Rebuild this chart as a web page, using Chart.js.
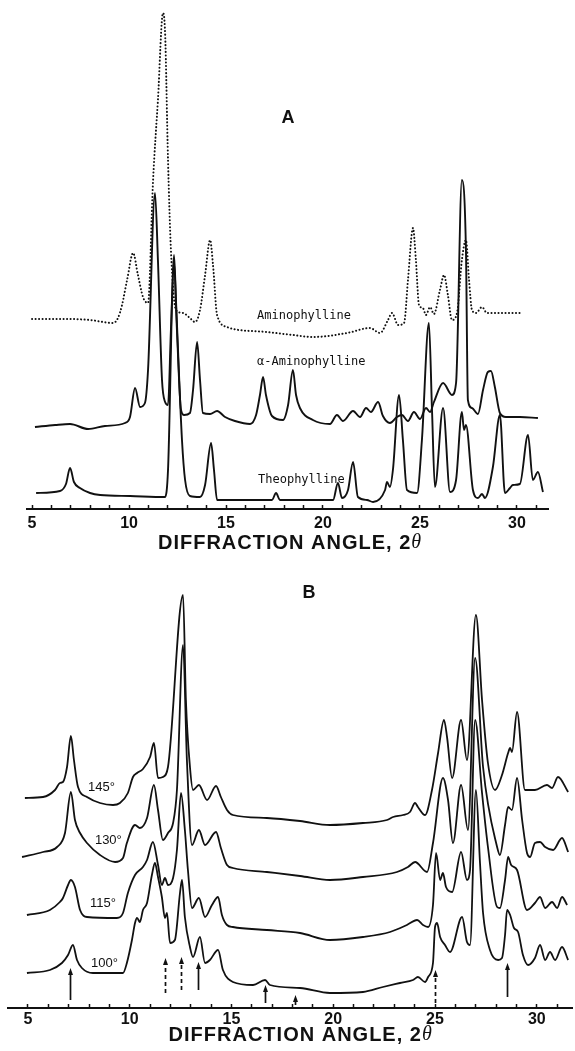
<!DOCTYPE html>
<html lang="en">
<head>
<meta charset="utf-8">
<title>Diffraction patterns</title>
<script src="https://cdn.jsdelivr.net/npm/chart.js@4.4.1/dist/chart.umd.min.js"></script>
<style>
  html, body { margin: 0; padding: 0; background: #fff; }
  .painel { position: absolute; left: 0; width: 575px; }
  #painel-a { top: 0; height: 560px; }
  #painel-b { top: 560px; height: 491px; }
</style>
</head>
<body>
<div class="painel" id="painel-a"><canvas id="grafico-a"></canvas></div>
<div class="painel" id="painel-b"><canvas id="grafico-b"></canvas></div>
<script>
// Painel A - ângulos (2θ) e intensidades de cada difratograma
const angulosTeofilina = [5.21, 6.44, 6.75, 6.96, 7.16, 7.47, 7.99, 8.51, 10.05, 11.86, 12.01, 12.32, 12.42, 12.73, 12.89, 13.14, 13.66, 13.92, 14.23, 14.38, 14.54, 15.21, 17.37, 17.58, 17.78, 20.52, 20.77, 20.98, 21.29, 21.55, 21.80, 22.27, 22.58, 23.20, 23.30, 23.45, 23.61, 23.92, 24.12, 24.33, 24.85, 25.10, 25.46, 25.62, 25.77, 26.19, 26.55, 26.86, 27.16, 27.27, 27.37, 27.73, 27.99, 28.20, 28.35, 28.76, 29.12, 29.38, 29.64, 29.79, 30.15, 30.57, 30.82, 31.08, 31.34];
const intensTeofilina = [16, 18, 25, 41, 27, 21, 16, 14, 13, 12, 39, 254, 209, 69, 29, 13, 12, 24, 66, 39, 9, 9, 9, 16, 9, 9, 26, 11, 19, 47, 12, 9, 7, 19, 27, 22, 40, 114, 69, 19, 16, 69, 186, 99, 22, 101, 17, 29, 97, 79, 84, 19, 11, 15, 11, 42, 94, 16, 21, 24, 25, 74, 29, 37, 17];

const angulosAlfa = [5.15, 6.19, 6.96, 7.89, 8.76, 9.79, 10.05, 10.31, 10.57, 10.82, 10.98, 11.34, 11.49, 11.70, 11.86, 12.01, 12.16, 12.32, 12.47, 12.68, 12.84, 13.14, 13.30, 13.51, 13.66, 13.81, 14.18, 14.54, 14.95, 15.46, 16.24, 16.55, 16.75, 16.91, 17.06, 17.37, 17.94, 18.20, 18.45, 18.61, 18.81, 19.48, 20.36, 20.72, 21.03, 21.55, 21.91, 22.22, 22.47, 22.84, 23.09, 23.45, 23.81, 24.07, 24.38, 24.69, 25.00, 25.31, 25.52, 25.72, 26.19, 26.65, 26.86, 27.16, 27.37, 27.47, 27.68, 27.99, 28.25, 28.50, 28.66, 28.86, 29.12, 29.43, 30.15, 31.08];
const intensAlfa = [2, 4, 5, 0, 3, 6, 12, 41, 22, 26, 59, 236, 169, 49, 27, 24, 99, 167, 99, 19, 14, 16, 39, 87, 49, 16, 15, 18, 12, 8, 5, 14, 34, 52, 34, 13, 9, 24, 59, 34, 21, 9, 5, 14, 8, 18, 12, 21, 17, 27, 13, 6, 12, 14, 8, 17, 10, 21, 17, 27, 46, 34, 46, 249, 179, 29, 21, 15, 39, 57, 58, 42, 16, 12, 12, 11];

const angulosAminofilina = [5.00, 6.80, 7.99, 9.18, 9.43, 9.64, 9.90, 10.21, 10.46, 10.72, 10.98, 11.24, 11.49, 11.75, 11.86, 12.01, 12.16, 12.42, 12.78, 13.14, 13.40, 13.66, 13.92, 14.18, 14.33, 14.54, 15.05, 15.36, 17.11, 18.45, 19.48, 21.24, 22.42, 22.94, 23.35, 23.56, 23.87, 24.18, 24.38, 24.64, 24.79, 24.95, 25.15, 25.31, 25.52, 25.72, 26.03, 26.24, 26.44, 26.65, 26.91, 27.16, 27.37, 27.53, 27.68, 27.89, 28.20, 28.45, 29.12, 30.26];
const intensAminofilina = [20, 20, 19, 16, 21, 34, 59, 86, 64, 42, 36, 159, 239, 326, 306, 179, 89, 29, 26, 21, 17, 29, 64, 99, 74, 24, 12, 10, 7, 4, 2, 6, 11, 6, 19, 26, 14, 16, 59, 111, 79, 34, 31, 24, 32, 25, 49, 64, 44, 19, 26, 79, 99, 59, 29, 26, 32, 26, 26, 26];

// deslocamento vertical de cada curva: teofilina, α-aminofilina, aminofilina
const deslocamentosA = [0, 80, 170];
const nomesA = ['Theophylline', 'α-Aminophylline', 'Aminophylline'];

// Painel B - aminofilina aquecida a 100°, 115°, 130° e 145°
const angulos100 = [4.95, 6.08, 6.67, 6.97, 7.21, 7.41, 7.65, 8.19, 9.67, 9.86, 10.11, 10.26, 10.36, 10.50, 10.65, 10.85, 11.09, 11.24, 11.39, 11.58, 11.73, 11.83, 11.98, 12.22, 12.47, 12.57, 12.71, 12.96, 13.11, 13.45, 13.70, 13.94, 14.34, 14.58, 15.07, 16.06, 16.65, 16.89, 18.37, 19.84, 21.46, 22.44, 23.28, 23.92, 24.16, 24.51, 24.66, 24.90, 25.00, 25.10, 25.25, 25.49, 25.74, 26.33, 26.57, 26.72, 27.01, 27.21, 27.36, 27.70, 28.10, 28.29, 28.44, 28.54, 28.69, 28.88, 29.08, 29.32, 29.57, 29.91, 30.16, 30.41, 30.65, 30.90, 31.24, 31.54];
const intens100 = [35, 38, 45, 53, 63, 48, 40, 35, 35, 45, 68, 85, 90, 86, 98, 105, 133, 145, 131, 111, 90, 95, 65, 68, 115, 128, 91, 61, 51, 71, 45, 48, 58, 38, 26, 23, 28, 23, 20, 15, 16, 21, 25, 28, 31, 26, 31, 45, 81, 85, 71, 63, 56, 91, 66, 63, 218, 145, 95, 58, 48, 50, 73, 98, 93, 80, 76, 53, 43, 50, 63, 48, 56, 48, 61, 48];

const angulos115 = [4.95, 6.08, 6.57, 6.72, 6.97, 7.11, 7.31, 7.56, 7.90, 9.37, 9.67, 9.91, 10.26, 10.65, 10.85, 11.14, 11.39, 11.58, 11.73, 11.88, 12.13, 12.32, 12.52, 12.71, 12.86, 13.06, 13.40, 13.70, 14.04, 14.34, 14.53, 14.78, 15.07, 16.74, 18.37, 19.84, 21.46, 22.79, 23.62, 24.12, 24.41, 24.66, 24.90, 25.05, 25.25, 25.39, 25.54, 25.84, 26.28, 26.57, 26.72, 26.97, 27.31, 27.60, 28.05, 28.19, 28.44, 28.59, 28.74, 29.03, 29.52, 29.91, 30.16, 30.41, 30.75, 31.00, 31.24, 31.49];
const intens115 = [35, 40, 48, 52, 65, 70, 63, 40, 33, 32, 37, 57, 75, 83, 90, 108, 85, 65, 72, 65, 72, 100, 157, 120, 80, 42, 52, 33, 45, 53, 35, 25, 23, 20, 17, 10, 13, 18, 25, 30, 25, 23, 45, 97, 70, 77, 63, 58, 98, 70, 80, 230, 157, 103, 43, 42, 70, 93, 85, 80, 40, 47, 53, 42, 48, 42, 53, 45];

const angulos130 = [4.71, 5.74, 6.43, 6.82, 7.11, 7.31, 7.56, 7.90, 8.54, 9.28, 9.67, 9.86, 10.26, 10.50, 10.85, 11.19, 11.39, 11.63, 11.88, 12.13, 12.32, 12.62, 12.81, 13.06, 13.40, 13.70, 14.24, 14.48, 14.78, 15.07, 16.74, 18.37, 19.84, 21.46, 23.13, 23.67, 24.02, 24.61, 24.90, 25.39, 25.64, 25.88, 26.28, 26.62, 26.97, 27.36, 28.05, 28.19, 28.44, 28.59, 28.78, 29.03, 29.28, 29.52, 29.67, 29.91, 30.16, 30.41, 30.80, 31.24, 31.54];
const intens130 = [35, 40, 45, 59, 100, 72, 59, 49, 37, 30, 34, 49, 67, 64, 74, 107, 82, 52, 59, 69, 102, 247, 132, 47, 62, 47, 60, 44, 27, 24, 20, 16, 12, 15, 20, 25, 30, 20, 49, 114, 92, 49, 107, 62, 234, 125, 45, 37, 67, 85, 82, 114, 72, 39, 35, 49, 50, 45, 42, 54, 40];

const angulos145 = [4.85, 5.74, 6.33, 6.57, 6.72, 6.92, 7.11, 7.26, 7.46, 7.90, 8.54, 9.18, 9.52, 9.91, 10.16, 10.36, 10.65, 11.00, 11.19, 11.39, 11.63, 11.88, 12.62, 12.76, 12.96, 13.11, 13.40, 13.80, 14.24, 14.48, 14.78, 15.07, 16.74, 18.37, 19.84, 21.46, 22.64, 22.94, 23.43, 23.77, 24.02, 24.16, 24.51, 24.85, 25.15, 25.44, 25.59, 25.84, 26.28, 26.57, 27.01, 27.31, 27.60, 27.95, 28.29, 28.59, 28.69, 28.78, 29.03, 29.42, 29.91, 30.50, 30.75, 31.04, 31.54];
const intens145 = [36, 37, 44, 51, 52, 67, 98, 74, 47, 37, 31, 29, 31, 41, 57, 61, 65, 77, 91, 56, 57, 67, 239, 134, 67, 44, 49, 34, 48, 37, 24, 19, 16, 13, 9, 11, 14, 17, 19, 22, 31, 27, 19, 44, 81, 114, 97, 56, 114, 74, 219, 134, 71, 44, 59, 81, 86, 82, 122, 44, 44, 49, 46, 57, 42];

// deslocamento vertical: 100°, 115°, 130°, 145°
const deslocamentosB = [0, 58, 116, 174];
const temperaturasB = ['100°', '115°', '130°', '145°'];

// picos marcados com seta abaixo da curva de 100°
const picosMarcados = [7.06, 11.73, 12.52, 13.35, 16.65, 18.12, 25.0, 28.54];

// Eixo x comum aos dois painéis
const marcasEixo = [5, 6, 7, 8, 9, 10, 11, 12, 13, 14, 15, 16, 17, 18, 19, 20, 21, 22, 23, 24, 25, 26, 27, 28, 29, 30, 31];
const rotulosEixo = [5, 10, 15, 20, 25, 30];
const tituloEixo = 'DIFFRACTION ANGLE, 2';

const COR_TINTA = '#111';
const FONTE_SANS = "'Liberation Sans', Arial, sans-serif";

document.addEventListener('DOMContentLoaded', () => {

    // Junta ângulos e intensidades em pontos {x, y} já deslocados
    function montarSerie(angulos, intensidades, deslocamento) {
        return angulos.map((a, i) => ({ x: a, y: intensidades[i] + deslocamento }));
    }

    function estiloCurva(label, data, extra) {
        return Object.assign({
            label,
            data,
            borderColor: COR_TINTA,
            borderWidth: 1.9,
            pointRadius: 0,
            fill: false,
            cubicInterpolationMode: 'monotone'
        }, extra || {});
    }

    // Textos, setas e título do eixo desenhados a partir das escalas
    function criarPluginAnotacoes(cfg) {
        return {
            id: 'anotacoes',
            afterDatasetsDraw(chart) {
                const { ctx, chartArea, scales: { x, y } } = chart;
                ctx.save();
                ctx.fillStyle = COR_TINTA;
                ctx.strokeStyle = COR_TINTA;
                ctx.textBaseline = 'middle';

                (cfg.textos || []).forEach(t => {
                    ctx.font = t.fonte;
                    ctx.textAlign = t.alinhamento || 'left';
                    ctx.fillText(t.texto, x.getPixelForValue(t.x), y.getPixelForValue(t.y));
                });

                (cfg.setas || []).forEach(s => {
                    const px = Math.round(x.getPixelForValue(s.x)) + 0.5;
                    const yTopo = y.getPixelForValue(s.topo);
                    const yBase = y.getPixelForValue(s.base);
                    ctx.lineWidth = 1.7;
                    ctx.setLineDash(s.tracejada ? [4, 3] : []);
                    ctx.beginPath();
                    ctx.moveTo(px, yBase);
                    ctx.lineTo(px, yTopo + 5);
                    ctx.stroke();
                    ctx.setLineDash([]);
                    ctx.beginPath();
                    ctx.moveTo(px, yTopo);
                    ctx.lineTo(px - 2.5, yTopo + 7);
                    ctx.lineTo(px + 2.5, yTopo + 7);
                    ctx.closePath();
                    ctx.fill();
                });

                const tit = cfg.titulo;
                if (tit) {
                    ctx.textAlign = 'left';
                    ctx.letterSpacing = '1px';
                    ctx.font = `bold 20px ${FONTE_SANS}`;
                    const larguraTexto = ctx.measureText(tit.texto).width;
                    ctx.font = "italic 20px 'Liberation Serif', serif";
                    const larguraSimbolo = ctx.measureText('θ').width;
                    const inicio = x.getPixelForValue(tit.x) - (larguraTexto + larguraSimbolo) / 2;
                    const yTitulo = chartArea.bottom + tit.dy;
                    ctx.font = `bold 20px ${FONTE_SANS}`;
                    ctx.fillText(tit.texto, inicio, yTitulo);
                    ctx.font = "italic 20px 'Liberation Serif', serif";
                    ctx.fillText('θ', inicio + larguraTexto, yTitulo);
                    ctx.letterSpacing = '0px';
                }
                ctx.restore();
            }
        };
    }

    function eixoX(min, max, alturaEixo, paddingRotulos) {
        return {
            type: 'linear',
            min,
            max,
            afterBuildTicks: escala => { escala.ticks = marcasEixo.map(v => ({ value: v })); },
            afterFit: escala => { escala.height = alturaEixo; },
            ticks: {
                autoSkip: false,
                maxRotation: 0,
                padding: paddingRotulos,
                color: COR_TINTA,
                font: { family: FONTE_SANS, size: 16, weight: 'bold' },
                callback: v => rotulosEixo.includes(v) ? String(v) : ''
            },
            grid: { display: true, drawOnChartArea: false, drawTicks: true, tickLength: -4, tickWidth: 1.5, color: COR_TINTA },
            border: { display: true, color: COR_TINTA, width: 2 }
        };
    }

    function opcoesBase(padding, eixo, yMax) {
        return {
            responsive: true,
            maintainAspectRatio: false,
            animation: false,
            devicePixelRatio: 1,
            layout: { padding },
            scales: {
                x: eixo,
                y: { display: false, min: 0, max: yMax }
            },
            plugins: { legend: { display: false }, tooltip: { enabled: false } }
        };
    }

    // Painel A
    const datasetsA = [
        estiloCurva(nomesA[0], montarSerie(angulosTeofilina, intensTeofilina, deslocamentosA[0])),
        estiloCurva(nomesA[1], montarSerie(angulosAlfa, intensAlfa, deslocamentosA[1])),
        estiloCurva(nomesA[2], montarSerie(angulosAminofilina, intensAminofilina, deslocamentosA[2]), {
            borderDash: [0.1, 3.4],
            borderCapStyle: 'round',
            borderWidth: 2
        })
    ];

    const fonteMono = "12px 'DejaVu Sans Mono', monospace";
    new Chart(document.getElementById('grafico-a'), {
        type: 'line',
        data: { datasets: datasetsA },
        options: opcoesBase({ left: 27, right: 27, top: 5, bottom: 0 }, eixoX(4.74, 31.6, 51, 9), 504),
        plugins: [criarPluginAnotacoes({
            textos: [
                { texto: 'A', x: 18.2, y: 391, fonte: `bold 18px ${FONTE_SANS}`, alinhamento: 'center' },
                { texto: nomesA[2], x: 16.6, y: 193, fonte: fonteMono },
                { texto: nomesA[1], x: 16.6, y: 147, fonte: fonteMono },
                { texto: nomesA[0], x: 16.65, y: 29, fonte: fonteMono }
            ],
            titulo: { texto: tituloEixo, x: 18.3, dy: 34 }
        })]
    });

    // Painel B
    const seriesB = [
        [angulos100, intens100],
        [angulos115, intens115],
        [angulos130, intens130],
        [angulos145, intens145]
    ];
    const datasetsB = seriesB.map(([ang, int], i) =>
        estiloCurva(temperaturasB[i], montarSerie(ang, int, deslocamentosB[i]), { borderWidth: 1.8 }));

    const fonteTemp = `13px ${FONTE_SANS}`;
    const alturasSetas = [[40, 8], [50, 15], [51, 18], [46, 18], [23, 5], [13, 3], [38, 5], [45, 11]];
    const setasTracejadas = [false, true, true, false, false, false, true, false];

    new Chart(document.getElementById('grafico-b'), {
        type: 'line',
        data: { datasets: datasetsB },
        options: opcoesBase({ left: 8, right: 3, top: 0, bottom: 0 }, eixoX(4.02, 31.73, 43, 6), 448),
        plugins: [criarPluginAnotacoes({
            textos: [
                { texto: 'B', x: 18.81, y: 415, fonte: `bold 18px ${FONTE_SANS}`, alinhamento: 'center' },
                { texto: temperaturasB[3], x: 7.95, y: 221, fonte: fonteTemp },
                { texto: temperaturasB[2], x: 8.29, y: 168, fonte: fonteTemp },
                { texto: temperaturasB[1], x: 8.05, y: 105, fonte: fonteTemp },
                { texto: temperaturasB[0], x: 8.10, y: 45, fonte: fonteTemp }
            ],
            setas: picosMarcados.map((p, i) => ({
                x: p, topo: alturasSetas[i][0], base: alturasSetas[i][1], tracejada: setasTracejadas[i]
            })),
            titulo: { texto: tituloEixo, x: 18.4, dy: 27 }
        })]
    });
});
</script>
</body>
</html>
